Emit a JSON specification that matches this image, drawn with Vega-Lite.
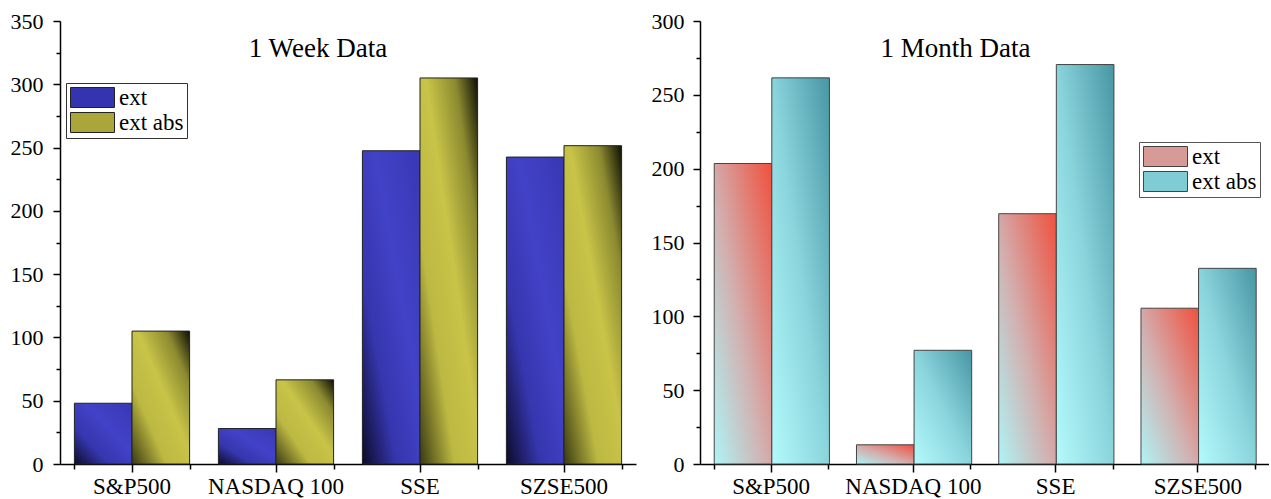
{
  "$schema": "https://vega.github.io/schema/vega-lite/v6.json",
  "background": "white",
  "padding": {"left": 10, "top": 10, "right": 0, "bottom": 0},
  "spacing": 64,
  "bounds": "flush",
  "datasets": {
    "week": [
      {"index": "S&P500", "series": "ext", "value": 48},
      {"index": "S&P500", "series": "ext abs", "value": 105},
      {"index": "NASDAQ 100", "series": "ext", "value": 28},
      {"index": "NASDAQ 100", "series": "ext abs", "value": 66.5},
      {"index": "SSE", "series": "ext", "value": 247.5},
      {"index": "SSE", "series": "ext abs", "value": 305},
      {"index": "SZSE500", "series": "ext", "value": 242.5},
      {"index": "SZSE500", "series": "ext abs", "value": 251.5}
    ],
    "month": [
      {"index": "S&P500", "series": "ext", "value": 203.5},
      {"index": "S&P500", "series": "ext abs", "value": 261.5},
      {"index": "NASDAQ 100", "series": "ext", "value": 13},
      {"index": "NASDAQ 100", "series": "ext abs", "value": 77},
      {"index": "SSE", "series": "ext", "value": 169.5},
      {"index": "SSE", "series": "ext abs", "value": 270.5},
      {"index": "SZSE500", "series": "ext", "value": 105.5},
      {"index": "SZSE500", "series": "ext abs", "value": 132.5}
    ]
  },
  "hconcat": [
    {
      "width": 576,
      "height": 443,
      "data": {"name": "week"},
      "title": {"text": "1 Week Data", "font": "Liberation Serif", "fontSize": 27, "fontWeight": "normal", "color": "black", "anchor": "middle", "offset": 0, "dx": -30, "dy": 53, "frame": "group"},
      "layer": [
        {
          "transform": [{"filter": "datum.series === 'ext'"}],
          "mark": {"type": "bar", "stroke": "#222", "strokeWidth": 1,
            "fill": {"gradient": "linear", "x1": 0, "y1": 1, "x2": 1, "y2": 0, "stops": [
              {"offset": 0, "color": "#0b0b2a"}, {"offset": 0.3, "color": "#3636ae"}, {"offset": 0.6, "color": "#4242c8"}, {"offset": 1, "color": "#3838b4"}]}},
          "encoding": {
            "x": {"field": "index", "type": "nominal",
              "scale": {"domain": ["S&P500", "NASDAQ 100", "SSE", "SZSE500"], "paddingInner": 0.2, "paddingOuter": 0.1},
              "axis": {"title": null, "labelAngle": 0, "tickSize": 8, "labelPadding": 3, "labelFontSize": 23, "orient": "bottom"}},
            "xOffset": {"field": "series", "type": "nominal", "scale": {"domain": ["ext", "ext abs"], "paddingInner": 0, "paddingOuter": 0}},
            "y": {"field": "value", "type": "quantitative",
              "scale": {"domain": [0, 350], "nice": false},
              "axis": {"title": null, "values": [0, 50, 100, 150, 200, 250, 300, 350], "tickSize": 7, "labelPadding": 10, "labelFlush": false, "labelOverlap": false, "orient": "left"}}
          }
        },
        {
          "transform": [{"filter": "datum.series === 'ext abs'"}],
          "mark": {"type": "bar", "stroke": "#222", "strokeWidth": 1,
            "fill": {"gradient": "linear", "x1": 0, "y1": 1, "x2": 1, "y2": 0, "stops": [
              {"offset": 0, "color": "#3a3a12"}, {"offset": 0.3, "color": "#bcb842"}, {"offset": 0.55, "color": "#c8c448"}, {"offset": 0.8, "color": "#8c8a30"}, {"offset": 1, "color": "#0e0e04"}]}},
          "encoding": {
            "x": {"field": "index", "type": "nominal", "axis": null},
            "xOffset": {"field": "series", "type": "nominal", "scale": {"domain": ["ext", "ext abs"]}},
            "y": {"field": "value", "type": "quantitative", "axis": null}
          }
        },
        {
          "mark": {"type": "point", "filled": true, "opacity": 0},
          "encoding": {
            "x": {"field": "index", "type": "nominal", "axis": {"title": null, "labels": false, "domain": false, "tickBand": "extent", "tickSize": 5, "orient": "bottom"}},
            "y": {"field": "value", "type": "quantitative", "axis": {"title": null, "labels": false, "domain": false, "values": [25, 75, 125, 175, 225, 275, 325], "tickSize": 4, "orient": "left"}},
            "fill": {"field": "series", "type": "nominal",
              "scale": {"domain": ["ext", "ext abs"], "range": ["#3434b0", "#aaa63a"]},
              "legend": {"title": null, "orient": "none", "legendX": 6, "legendY": 62,
                "symbolType": "M-2.2,-1H2.2V1H-2.2Z", "symbolSize": 400, "symbolStrokeColor": "#222", "symbolStrokeWidth": 1, "symbolOpacity": 1,
                "symbolOffset": 12, "labelOffset": 15, "rowPadding": 0, "padding": 3,
                "labelFont": "Liberation Serif", "labelFontSize": 23, "labelColor": "black",
                "strokeColor": "#333", "fillColor": "white"}}
          }
        }
      ],
      "resolve": {"axis": {"x": "independent", "y": "independent"}}
    },
    {
      "width": 569,
      "height": 443,
      "data": {"name": "month"},
      "title": {"text": "1 Month Data", "font": "Liberation Serif", "fontSize": 27, "fontWeight": "normal", "color": "black", "anchor": "middle", "offset": 0, "dx": -29, "dy": 53, "frame": "group"},
      "layer": [
        {
          "transform": [{"filter": "datum.series === 'ext'"}],
          "mark": {"type": "bar", "stroke": "#444", "strokeWidth": 1,
            "fill": {"gradient": "linear", "x1": 0, "y1": 1, "x2": 1, "y2": 0, "stops": [
              {"offset": 0, "color": "#aef4f6"}, {"offset": 0.45, "color": "#d2b0b0"}, {"offset": 1, "color": "#f0503e"}]}},
          "encoding": {
            "x": {"field": "index", "type": "nominal",
              "scale": {"domain": ["S&P500", "NASDAQ 100", "SSE", "SZSE500"], "paddingInner": 0.2, "paddingOuter": 0.1},
              "axis": {"title": null, "labelAngle": 0, "tickSize": 8, "labelPadding": 3, "labelFontSize": 23, "orient": "bottom"}},
            "xOffset": {"field": "series", "type": "nominal", "scale": {"domain": ["ext", "ext abs"], "paddingInner": 0, "paddingOuter": 0}},
            "y": {"field": "value", "type": "quantitative",
              "scale": {"domain": [0, 300], "nice": false},
              "axis": {"title": null, "values": [0, 50, 100, 150, 200, 250, 300], "tickSize": 7, "labelPadding": 9, "labelFlush": false, "labelOverlap": false, "orient": "left"}}
          }
        },
        {
          "transform": [{"filter": "datum.series === 'ext abs'"}],
          "mark": {"type": "bar", "stroke": "#444", "strokeWidth": 1,
            "fill": {"gradient": "linear", "x1": 0, "y1": 1, "x2": 1, "y2": 0, "stops": [
              {"offset": 0, "color": "#b4fafc"}, {"offset": 0.5, "color": "#8ad4dc"}, {"offset": 1, "color": "#4896a4"}]}},
          "encoding": {
            "x": {"field": "index", "type": "nominal", "axis": null},
            "xOffset": {"field": "series", "type": "nominal", "scale": {"domain": ["ext", "ext abs"]}},
            "y": {"field": "value", "type": "quantitative", "axis": null}
          }
        },
        {
          "mark": {"type": "point", "filled": true, "opacity": 0},
          "encoding": {
            "x": {"field": "index", "type": "nominal", "axis": {"title": null, "labels": false, "domain": false, "tickBand": "extent", "tickSize": 5, "orient": "bottom"}},
            "y": {"field": "value", "type": "quantitative", "axis": {"title": null, "labels": false, "domain": false, "values": [25, 75, 125, 175, 225, 275], "tickSize": 4, "orient": "left"}},
            "fill": {"field": "series", "type": "nominal",
              "scale": {"domain": ["ext", "ext abs"], "range": ["#d89a96", "#80ccd4"]},
              "legend": {"title": null, "orient": "none", "legendX": 439, "legendY": 121,
                "symbolType": "M-2.2,-1H2.2V1H-2.2Z", "symbolSize": 400, "symbolStrokeColor": "#444", "symbolStrokeWidth": 1, "symbolOpacity": 1,
                "symbolOffset": 12, "labelOffset": 15, "rowPadding": 0, "padding": 3,
                "labelFont": "Liberation Serif", "labelFontSize": 23, "labelColor": "black",
                "strokeColor": "#555", "fillColor": "white"}}
          }
        }
      ],
      "resolve": {"axis": {"x": "independent", "y": "independent"}}
    }
  ],
  "resolve": {"scale": {"fill": "independent"}},
  "config": {
    "view": {"stroke": null},
    "axis": {"grid": false, "domainColor": "black", "tickColor": "black", "domainWidth": 1.5, "tickWidth": 1.5,
      "labelFont": "Liberation Serif", "labelFontSize": 22, "labelColor": "black"}
  }
}
